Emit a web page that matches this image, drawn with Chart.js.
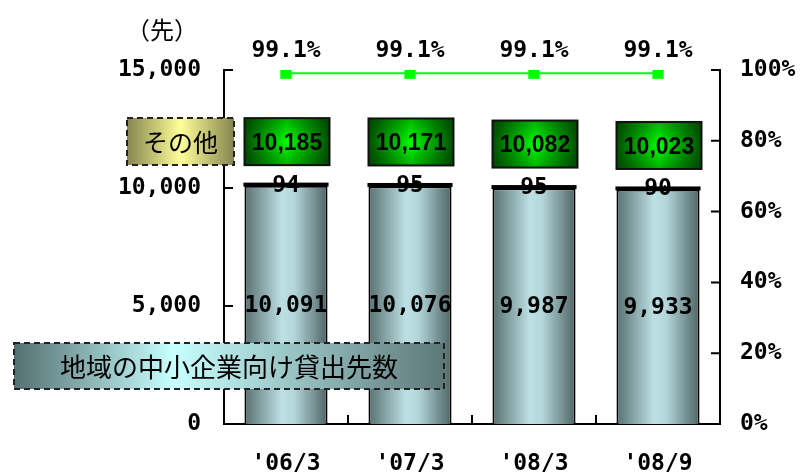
<!DOCTYPE html>
<html>
<head>
<meta charset="utf-8">
<script src="https://cdn.jsdelivr.net/npm/chart.js@4"></script>
<style>
  body { margin: 0; background: #fff; }
  #wrap { width: 805px; height: 473px; }
</style>
</head>
<body>
<div id="wrap"><canvas id="chart" width="805" height="473"></canvas></div>
<script>
const labels = ["'06/3", "'07/3", "'08/3", "'08/9"];
const chiikiValues = [10091, 10076, 9987, 9933];
const sonotaValues = [94, 95, 95, 90];
const ratioValues = [99.1, 99.1, 99.1, 99.1];
const leftTicks = [0, 5000, 10000, 15000];
const rightTicks = [0, 20, 40, 60, 80, 100];

const numFont = 'bold 23px "DejaVu Sans Mono"';
const BAR_PCT = 0.67;

function barGradient(c) {
    const chart = c.chart;
    const area = chart.chartArea;
    if (!area) return '#8fb0b2';
    const x = chart.scales.x.getPixelForValue(c.dataIndex);
    const w = area.width / labels.length * BAR_PCT;
    const g = chart.ctx.createLinearGradient(x - w / 2, 0, x + w / 2, 0);
    g.addColorStop(0, '#587070');
    g.addColorStop(0.45, '#bde0e4');
    g.addColorStop(0.6, '#b3d6da');
    g.addColorStop(1, '#4e6464');
    return g;
}

function dashedBox(ctx, x, y, w, h, stops, text, font) {
    const g = ctx.createLinearGradient(x, 0, x + w, 0);
    stops.forEach(s => g.addColorStop(s[0], s[1]));
    ctx.fillStyle = g;
    ctx.fillRect(x, y, w, h);
    ctx.setLineDash([6, 4]);
    ctx.lineWidth = 2;
    ctx.strokeStyle = '#222';
    ctx.strokeRect(x, y, w, h);
    ctx.setLineDash([]);
    ctx.fillStyle = '#000';
    ctx.font = font;
    ctx.textAlign = 'center';
    ctx.textBaseline = 'middle';
    ctx.fillText(text, x + w / 2, y + h / 2 + 1);
}

const decorPlugin = {
    id: 'decor',
    afterDraw(chart) {
        const ctx = chart.ctx;
        const area = chart.chartArea;
        const xs = chart.scales.x, ys = chart.scales.y, y1 = chart.scales.y1;
        ctx.save();

        // inner tick marks
        ctx.strokeStyle = '#000';
        ctx.lineWidth = 2;
        ctx.beginPath();
        leftTicks.forEach(v => {
            const py = ys.getPixelForValue(v);
            ctx.moveTo(area.left, py); ctx.lineTo(area.left + 9, py);
        });
        rightTicks.forEach(v => {
            const py = y1.getPixelForValue(v);
            ctx.moveTo(area.right, py); ctx.lineTo(area.right - 9, py);
        });
        const cw = area.width / labels.length;
        for (let i = 1; i < labels.length; i++) {
            const px = xs.getPixelForValue(i) - cw / 2;
            ctx.moveTo(px, area.bottom); ctx.lineTo(px, area.bottom - 9);
        }
        ctx.stroke();

        const m0 = chart.getDatasetMeta(0), m1 = chart.getDatasetMeta(1), m2 = chart.getDatasetMeta(2);

        // thicker black cap for the small segment
        m1.data.forEach(b => {
            const w = b.width;
            ctx.fillStyle = '#000';
            ctx.fillRect(b.x - w / 2 - 1, b.y - 1, w + 2, 4);
        });

        // labels inside bars and small segment
        ctx.fillStyle = '#000';
        ctx.font = numFont;
        ctx.textAlign = 'center';
        ctx.textBaseline = 'middle';
        m0.data.forEach((b, i) => {
            ctx.fillText(chiikiValues[i].toLocaleString('en-US'), b.x, (b.y + b.base) / 2 + 1);
        });
        m1.data.forEach((b, i) => {
            ctx.fillText(String(sonotaValues[i]), b.x, (b.y + b.base) / 2 + 1);
        });

        // totals in green boxes
        m1.data.forEach((b, i) => {
            const total = chiikiValues[i] + sonotaValues[i];
            const bw = 85, bh = 47;
            const bx = b.x - bw / 2 + 1, by = ys.getPixelForValue(total) - 42 - bh / 2;
            const g = ctx.createLinearGradient(bx, 0, bx + bw, 0);
            g.addColorStop(0, '#005000');
            g.addColorStop(0.5, '#00ff00');
            g.addColorStop(1, '#005000');
            ctx.fillStyle = g;
            ctx.fillRect(bx, by, bw, bh);
            const v = ctx.createLinearGradient(0, by, 0, by + bh);
            v.addColorStop(0, 'rgba(0,40,0,0.35)');
            v.addColorStop(0.5, 'rgba(0,40,0,0)');
            v.addColorStop(1, 'rgba(0,40,0,0.35)');
            ctx.fillStyle = v;
            ctx.fillRect(bx, by, bw, bh);
            ctx.lineWidth = 2;
            ctx.strokeStyle = '#111';
            ctx.strokeRect(bx, by, bw, bh);
            ctx.fillStyle = '#000';
            ctx.font = 'bold 23px "Liberation Sans"';
            ctx.fillText(total.toLocaleString('en-US'), bx + bw / 2, by + bh / 2 + 2);
        });

        // ratio labels
        ctx.font = numFont;
        m2.data.forEach((p, i) => {
            ctx.fillText(ratioValues[i].toFixed(1) + '%', p.x, p.y - 22);
        });

        // unit
        ctx.font = '24px "Noto Sans CJK JP"';
        ctx.fillText('（先）', 162, 30);

        // legend boxes
        dashedBox(ctx, 127, 118, 107, 47,
            [[0, '#85854f'], [0.5, '#ffff99'], [1, '#85854f']],
            'その他', '25px "Noto Sans CJK JP"');
        dashedBox(ctx, 14, 343, 430, 46,
            [[0, '#557070'], [0.37, '#c8ffff'], [1, '#5e7878']],
            '地域の中小企業向け貸出先数', '26px "Noto Sans CJK JP"');

        ctx.restore();
    }
};

new Chart(document.getElementById('chart'), {
    type: 'bar',
    data: {
        labels: labels,
        datasets: [
            {
                label: '地域の中小企業向け貸出先数',
                data: chiikiValues,
                yAxisID: 'y',
                stack: 's',
                backgroundColor: barGradient,
                borderColor: '#000',
                borderWidth: 2,
                categoryPercentage: 1,
                barPercentage: BAR_PCT,
                order: 2
            },
            {
                label: 'その他',
                data: sonotaValues,
                yAxisID: 'y',
                stack: 's',
                backgroundColor: '#000',
                borderColor: '#000',
                borderWidth: 2,
                categoryPercentage: 1,
                barPercentage: BAR_PCT,
                order: 2
            },
            {
                type: 'line',
                label: '比率',
                data: ratioValues,
                yAxisID: 'y1',
                borderColor: '#00ff00',
                backgroundColor: '#00ff00',
                borderWidth: 2,
                pointStyle: 'rect',
                pointRadius: 8,
                pointBorderWidth: 0,
                order: 1
            }
        ]
    },
    options: {
        responsive: false,
        animation: false,
        layout: { padding: { top: 70, left: 0, right: 0, bottom: 0 } },
        plugins: {
            legend: { display: false },
            tooltip: { enabled: false }
        },
        scales: {
            x: {
                stacked: true,
                grid: { display: false, drawTicks: false },
                border: { display: true, color: '#000', width: 2 },
                ticks: { color: '#000', font: { family: 'DejaVu Sans Mono', weight: 'bold', size: 23 }, padding: 26 },
                afterFit: s => { s.height = 49; }
            },
            y: {
                stacked: true,
                position: 'left',
                min: 0,
                max: 15000,
                grid: { display: false, drawTicks: false },
                border: { display: true, color: '#000', width: 2 },
                ticks: {
                    stepSize: 5000,
                    color: '#000',
                    padding: 23,
                    font: { family: 'DejaVu Sans Mono', weight: 'bold', size: 23 },
                    callback: v => v.toLocaleString('en-US')
                },
                afterFit: s => { s.width = 224; }
            },
            y1: {
                position: 'right',
                min: 0,
                max: 100,
                grid: { display: false, drawTicks: false },
                border: { display: true, color: '#000', width: 2 },
                ticks: {
                    stepSize: 20,
                    color: '#000',
                    padding: 20,
                    font: { family: 'DejaVu Sans Mono', weight: 'bold', size: 23 },
                    callback: v => v + '%'
                },
                afterFit: s => { s.width = 85; }
            }
        }
    },
    plugins: [decorPlugin]
});
</script>
</body>
</html>
